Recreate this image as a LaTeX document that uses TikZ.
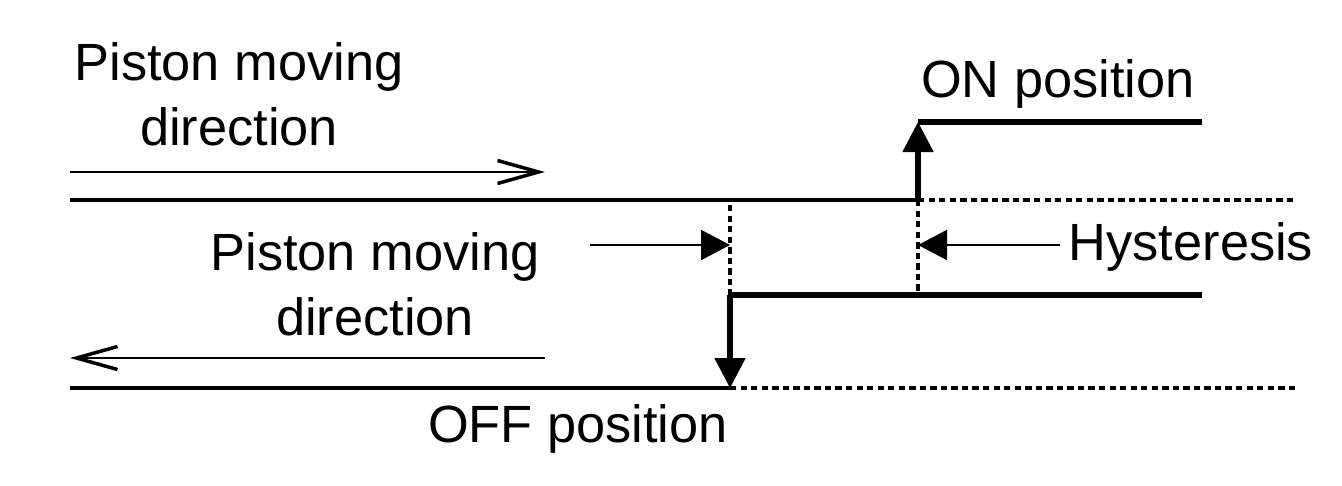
\documentclass[tikz,border=0pt]{standalone}
\usepackage{fontspec}
\setmainfont{Liberation Sans}
\usepackage{tikz}
\usetikzlibrary{arrows.meta, positioning}
\tikzset{
	railline/.style   ={line width=2pt},
	dotline/.style    ={line width=2pt, dash pattern=on 3.6pt off 2.4pt},
	switchline/.style ={line width=2.9pt},
	switcharrow/.style={line width=2.9pt, -{Triangle[length=0.6cm, width=0.6cm]}},
	dirarrow/.style   ={line width=1.5pt, -{Straight Barb[length=0.82cm, width=0.46cm, line width=2pt]}},
	hysarrow/.style   ={line width=1.2pt, -{Triangle[length=0.58cm, width=0.6cm]}},
	% text helper
	lbl/.style={inner sep=0pt, font=\fontsize{29.8}{37}\selectfont, align=center},
}
\begin{document}
\begin{tikzpicture}[x=0.02cm, y=-0.02cm]
	\useasboundingbox (0,0) rectangle (1342,485);
	% points of the two switching levels
	\coordinate (onLow)  at (918,200);
	\coordinate (onTop)  at (918,122);
	\coordinate (onEnd)  at (1202,122);
	\coordinate (offTop) at (730,295);
	\coordinate (offLow) at (730,388);
	\coordinate (offEnd) at (1202,295);
	\coordinate (upL)    at (70,200);
	\coordinate (upR)    at (1295,200);
	\coordinate (loL)    at (70,388);
	\coordinate (loR)    at (1295,388);
	\coordinate (offMark) at (730,205);
	\coordinate (onMark) at (918,295);
	\coordinate (hysA)   at (730,245);
	\coordinate (hysB)   at (918,245);
	\coordinate (hysL)   at (590,245);
	\coordinate (hysR)   at (1060,245);
	\coordinate (fwdA)   at (70,172);
	\coordinate (fwdB)   at (545,172);
	\coordinate (bwdA)   at (545,358);
	\coordinate (bwdB)   at (70,358);
	% labels
	\node[lbl, anchor=north] (lblFwd) at (239,42) {Piston moving\\direction};
	\node[lbl, anchor=north] (lblBwd) at (375,232) {Piston moving\\direction};
	\node[lbl, anchor=base] (lblOn) at (1058,97) {ON position};
	\node[lbl, anchor=base] (lblOff) at (578,442) {OFF position};
	\node[lbl, anchor=base] (lblHys) at (1191,260) {Hysteresis};
	% base lines
	\draw[railline] (upL) -- (onLow);
	\draw[dotline] (onLow) -- (upR);
	\draw[railline] (loL) -- (offLow);
	\draw[dotline] (offLow) -- (loR);
	\draw[dotline] (offMark) -- (offTop);
	\draw[dotline] (onLow) -- (onMark);
	% switching steps
	\draw[switcharrow] (onLow) -- (onTop);
	\draw[switchline] (onTop) -- (onEnd);
	\draw[switchline] (offEnd) -- (offTop);
	\draw[switcharrow] (offTop) -- (offLow);
	% hysteresis and directions
	\draw[hysarrow] (hysL) -- (hysA);
	\draw[hysarrow] (hysR) -- (hysB);
	\draw[dirarrow] (fwdA) -- (fwdB);
	\draw[dirarrow] (bwdA) -- (bwdB);
\end{tikzpicture}
\end{document}
